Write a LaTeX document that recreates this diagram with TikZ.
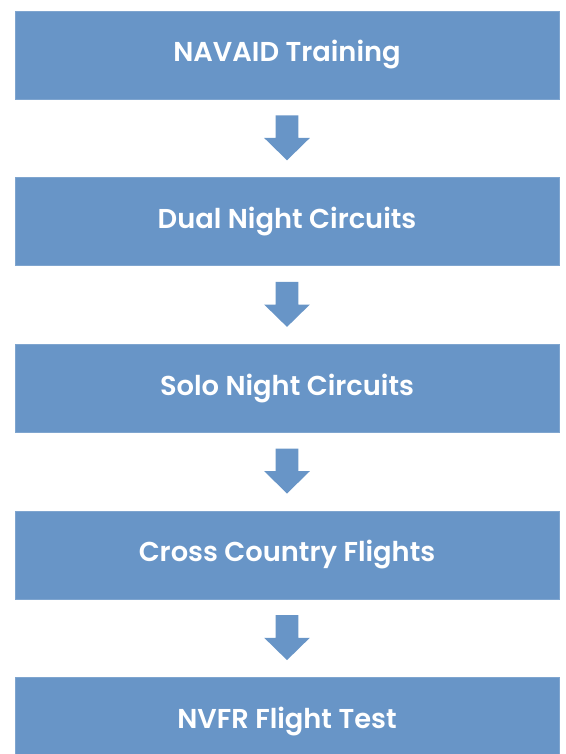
\documentclass[tikz,border=0pt]{standalone}
\usepackage{fontspec}
\IfFontExistsTF{Poppins SemiBold}{\setsansfont{Poppins}[BoldFont={Poppins SemiBold}]}{\setsansfont{Poppins}}
\usetikzlibrary{positioning,calc}
\definecolor{stepblue}{RGB}{104,149,199}
\begin{document}
\begin{tikzpicture}[x=1pt,y=1pt,
	stage/.style={fill=stepblue, draw=stepblue!85!white, line width=0.6pt, minimum width=544pt, minimum height=88pt, inner sep=0pt, text=white, font=\sffamily\bfseries\fontsize{27.3}{31}\selectfont}]
	\def\gap{78pt}
	\useasboundingbox (0,0) rectangle (565,-754);
	
	\node[stage] (s1) at (287,-55) {\raisebox{-2.5pt}{NAVAID Training}};
	\node[stage, below=\gap of s1] (s2) {\raisebox{-2.5pt}{Dual Night Circuits}};
	\node[stage, below=\gap of s2] (s3) {\raisebox{-2.5pt}{Solo Night Circuits}};
	\node[stage, below=\gap of s3] (s4) {\raisebox{-2.5pt}{Cross Country Flights}};
	\node[stage, below=\gap of s4] (s5) {\raisebox{-2.5pt}{NVFR Flight Test}};
	
	% block arrows between the stages
	\foreach \a/\b in {s1/s2,s2/s3,s3/s4,s4/s5}{
		\coordinate (t) at ($(\a.south)+(0,-16)$);
		\fill[stepblue] ($(t)+(-11.3,0)$) -- ($(t)+(11.3,0)$) -- ($(t)+(11.3,-22.7)$) -- ($(t)+(22.8,-22.7)$)
			-- ($(t)+(0,-45)$) -- ($(t)+(-22.8,-22.7)$) -- ($(t)+(-11.3,-22.7)$) -- cycle;
	}
\end{tikzpicture}
\end{document}
